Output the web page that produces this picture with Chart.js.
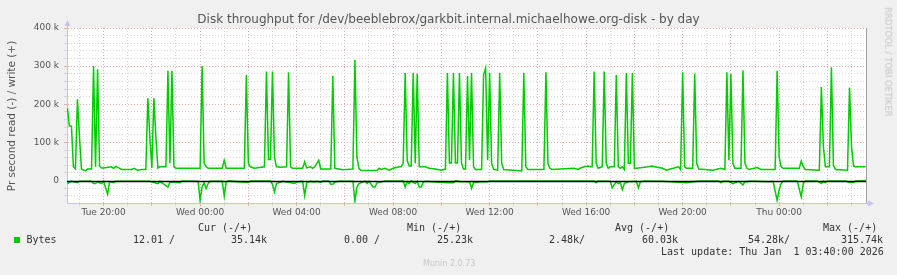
<!DOCTYPE html>
<html>
<head>
<meta charset="utf-8">
<script src="https://cdn.jsdelivr.net/npm/chart.js@4/dist/chart.umd.min.js"></script>
<style>
html,body{margin:0;padding:0;background:#f0f0f0;}
#wrap{position:relative;width:897px;height:275px;overflow:hidden;font-family:'DejaVu Sans',sans-serif;}
#c{position:absolute;left:0;top:0;}
.t{position:absolute;white-space:pre;line-height:1;}
.mono{font-family:'DejaVu Sans Mono',monospace;font-size:10px;color:#333;}
</style>
</head>
<body>
<div id="wrap">
<canvas id="c" width="897" height="275"></canvas>
<div class="t" style="left:0;width:897px;text-align:center;top:13px;font-size:12px;color:#555;">Disk throughput for /dev/beeblebrox/garkbit.internal.michaelhowe.org-disk - by day</div>
<div class="t" style="left:11px;top:116px;transform:translate(-50%,-50%) rotate(-90deg);font-size:10.5px;color:#555;">Pr second read (-) / write (+)</div>
<div class="t" style="left:888px;top:62px;transform:translate(-50%,-50%) rotate(90deg);font-size:8.5px;color:#c4c4c4;">RRDTOOL / TOBI OETIKER</div>
<div class="t mono" style="left:198px;top:222.5px;">Cur (-/+)</div>
<div class="t mono" style="left:407px;top:222.5px;">Min (-/+)</div>
<div class="t mono" style="left:615px;top:222.5px;">Avg (-/+)</div>
<div class="t mono" style="left:823px;top:222.5px;">Max (-/+)</div>
<div style="position:absolute;left:14px;top:237px;width:6px;height:6px;background:#00cc00;"></div>
<div class="t mono" style="left:26.5px;top:235px;">Bytes</div>
<div class="t mono" style="left:133px;top:235px;">12.01 /</div>
<div class="t mono" style="left:231px;top:235px;">35.14k</div>
<div class="t mono" style="left:344px;top:235px;">0.00 /</div>
<div class="t mono" style="left:437px;top:235px;">25.23k</div>
<div class="t mono" style="left:549px;top:235px;">2.48k/</div>
<div class="t mono" style="left:642px;top:235px;">60.03k</div>
<div class="t mono" style="left:748px;top:235px;">54.28k/</div>
<div class="t mono" style="left:841px;top:235px;">315.74k</div>
<div class="t mono" style="left:661px;top:247px;">Last update: Thu Jan  1 03:40:00 2026</div>
<div class="t" style="left:423px;top:260px;font-size:8px;color:#c8c8c8;">Munin 2.0.73</div>
</div>
<script>
// time in minutes relative to Wed 00:00, values in k (bytes/s)
const xStart = -331;
const xEnd = 1656;
const writeTimes = [-330,-325,-320,-315,-310,-305,-300,-295,-285,-280,-270,-265,-260,-255,-250,-245,-240,-220,-215,-210,-200,-195,-170,-165,-155,-145,-135,-130,-125,-120,-115,-110,-105,-100,-85,-80,-75,-70,-65,-60,0,5,10,15,20,55,60,65,110,115,120,125,135,160,165,170,175,180,185,190,200,215,220,225,230,255,260,265,275,280,285,295,300,325,330,335,355,380,385,390,395,400,440,445,450,460,470,480,495,500,505,510,515,520,525,530,535,540,545,550,560,570,585,600,610,615,620,625,630,635,640,645,650,655,660,665,670,675,680,685,700,705,710,715,720,725,730,740,745,750,755,800,805,810,815,855,860,865,870,875,930,940,945,955,965,970,975,980,985,990,1000,1005,1010,1015,1020,1030,1035,1040,1045,1050,1055,1060,1065,1070,1075,1080,1085,1115,1125,1130,1150,1160,1165,1190,1195,1200,1205,1210,1225,1230,1235,1240,1255,1275,1295,1305,1310,1315,1320,1325,1330,1345,1350,1355,1360,1365,1385,1395,1430,1435,1440,1445,1450,1490,1495,1500,1505,1540,1545,1550,1555,1565,1570,1575,1580,1610,1615,1620,1625,1630,1655];
const writeValues = [190,143,143,36,31,213,115,30,25,30,30,300,36,292,38,33,33,36,32,37,32,29,29,32,27,29,29,216,115,33,216,115,33,36,36,288,45,288,36,32,32,300,45,36,32,32,53,32,32,277,45,36,32,36,286,55,55,286,60,36,35,36,284,36,32,32,49,33,36,32,36,53,30,30,274,32,28,30,316,62,32,26,26,32,29,32,27,32,36,36,45,282,53,38,38,282,45,280,36,36,36,32,30,27,30,282,46,46,282,46,46,282,46,30,30,274,53,282,36,29,29,277,295,53,282,45,29,27,282,45,29,25,282,36,29,29,284,45,32,29,32,29,32,36,38,36,36,286,45,32,36,286,45,32,36,36,277,36,32,36,29,282,45,45,282,32,32,36,38,36,32,27,29,36,29,284,36,32,32,280,45,30,29,27,32,29,284,53,279,45,32,32,289,45,32,29,34,29,29,288,62,36,32,32,51,36,29,27,245,89,36,36,297,40,29,27,244,89,38,36,36];
const readTimes = [-330,-325,-320,-305,-300,-270,-265,-260,-255,-250,-245,-240,-230,-225,-215,-210,-125,-105,-100,-80,-75,-50,-45,-5,0,5,10,15,20,25,55,60,65,70,120,125,175,180,185,190,205,235,240,255,260,265,275,285,290,300,305,320,325,330,335,345,380,385,390,395,405,410,415,420,430,435,440,450,460,505,510,515,520,525,535,540,545,550,555,560,615,630,635,650,670,675,680,700,715,720,980,985,990,1020,1025,1035,1040,1045,1050,1055,1065,1085,1090,1095,1105,1150,1200,1210,1225,1245,1290,1295,1300,1315,1325,1330,1340,1350,1355,1370,1415,1425,1435,1440,1445,1450,1485,1495,1500,1505,1535,1545,1550,1555,1560,1605,1615,1625,1630,1655];
const readValues = [8,4,2,6,2,2,8,8,3,6,8,2,36,3,6,2,2,8,2,17,4,6,1,2,52,17,6,21,8,2,2,41,4,1,5,1,1,10,30,8,2,8,4,2,39,6,2,4,2,5,1,1,10,10,4,2,2,54,17,8,4,1,8,2,17,17,6,4,1,1,17,3,8,1,8,2,17,17,4,2,6,6,1,3,3,21,5,3,3,1,1,6,1,2,19,3,8,5,24,8,3,2,19,3,1,2,5,6,3,1,1,6,2,2,8,6,2,12,3,1,3,2,52,25,8,1,1,43,8,1,1,8,2,5,1,1,5,5,1,0];
const yMin = -59, yMax = 400;

const MAJOR = '#e8acac', MINOR = '#d6d6d6', AXIS = '#c4c4ee';
const dayName = m => m < 0 ? 'Tue' : (m < 1440 ? 'Wed' : 'Thu');
const hhmm = m => { const h = ((Math.floor(m / 60) % 24) + 24) % 24; return (h < 10 ? '0' : '') + h + ':00'; };

const writeData = writeTimes.map((t, i) => ({x: t, y: writeValues[i]}));
const readData = readTimes.map((t, i) => ({x: t, y: -readValues[i]}));

const decor = {
  id: 'decor',
  beforeDraw(chart) {
    const {ctx, chartArea: a} = chart;
    ctx.save();
    ctx.fillStyle = '#ffffff';
    ctx.fillRect(a.left, a.top, a.right - a.left, a.bottom - a.top);
    ctx.restore();
  },
  afterDatasetsDraw(chart) {
    const {ctx, chartArea: a, scales: {y}} = chart;
    const y0 = Math.round(y.getPixelForValue(0)) + 0.5;
    ctx.save();
    ctx.strokeStyle = '#000';
    ctx.lineWidth = 1.6;
    ctx.beginPath(); ctx.moveTo(a.left, y0); ctx.lineTo(a.right, y0); ctx.stroke();
    ctx.lineWidth = 1;
    ctx.strokeStyle = '#a0a0a0';
    ctx.beginPath(); ctx.moveTo(Math.round(a.right) + 0.5, a.top); ctx.lineTo(Math.round(a.right) + 0.5, a.bottom); ctx.stroke();
    // axis arrows
    ctx.fillStyle = AXIS;
    const lx = Math.round(a.left) + 0.5;
    ctx.beginPath(); ctx.moveTo(lx - 3, a.top - 2); ctx.lineTo(lx + 3, a.top - 2); ctx.lineTo(lx, a.top - 8); ctx.closePath(); ctx.fill();
    ctx.strokeStyle = AXIS;
    ctx.beginPath(); ctx.moveTo(lx, a.top - 2); ctx.lineTo(lx, a.top); ctx.stroke();
    const by = Math.round(a.bottom) + 0.5;
    ctx.beginPath(); ctx.moveTo(a.right, by); ctx.lineTo(a.right + 2, by); ctx.stroke();
    ctx.beginPath(); ctx.moveTo(a.right + 2, by - 3); ctx.lineTo(a.right + 2, by + 3); ctx.lineTo(a.right + 8, by); ctx.closePath(); ctx.fill();
    ctx.restore();
  }
};

new Chart(document.getElementById('c'), {
  type: 'line',
  data: {
    datasets: [
      {label: 'Bytes', data: writeData, borderColor: '#00cc00', borderWidth: 1.5, pointRadius: 0, tension: 0, fill: false},
      {label: 'Bytes read', data: readData, borderColor: '#00cc00', borderWidth: 1.5, pointRadius: 0, tension: 0, fill: false}
    ]
  },
  options: {
    responsive: false,
    animation: false,
    devicePixelRatio: 1,
    events: [],
    layout: {padding: {left: 0, top: 28, right: 31, bottom: 0}},
    plugins: {legend: {display: false}, tooltip: {enabled: false}, title: {display: false}},
    scales: {
      x: {
        type: 'linear', min: xStart, max: xEnd,
        afterFit: s => { s.height = 72; },
        afterBuildTicks: s => { const t = []; for (let m = Math.ceil(xStart / 60) * 60; m < xEnd; m += 60) t.push({value: m}); s.ticks = t; },
        ticks: {
          autoSkip: false, maxRotation: 0, minRotation: 0, padding: 1,
          font: {family: 'DejaVu Sans', size: 9}, color: '#555',
          callback: v => (v % 240 === 0) ? dayName(v) + ' ' + hhmm(v) : ''
        },
        grid: {
          color: c => (c.tick && c.tick.value % 120 === 0) ? MAJOR : MINOR,
          tickLength: 3, lineWidth: 1
        },
        border: {display: true, color: AXIS, width: 1, dash: [1, 2]}
      },
      y: {
        type: 'linear', min: yMin, max: yMax,
        afterFit: s => { s.width = 67; },
        afterBuildTicks: s => { const t = []; for (let v = -40; v <= yMax; v += 20) t.push({value: v}); s.ticks = t; },
        ticks: {
          autoSkip: false, padding: 5,
          font: {family: 'DejaVu Sans', size: 9}, color: '#555',
          callback: v => (v % 100 === 0) ? (v === 0 ? '0' : v + ' k') : ''
        },
        grid: {
          color: c => {
            if (!c.tick) return MINOR;
            if (c.tick.value === 0) return 'rgba(0,0,0,0)';
            return c.tick.value % 100 === 0 ? MAJOR : MINOR;
          },
          tickLength: 3, lineWidth: 1
        },
        border: {display: true, color: AXIS, width: 1, dash: [1, 2]}
      }
    }
  },
  plugins: [decor]
});
</script>
</body>
</html>
